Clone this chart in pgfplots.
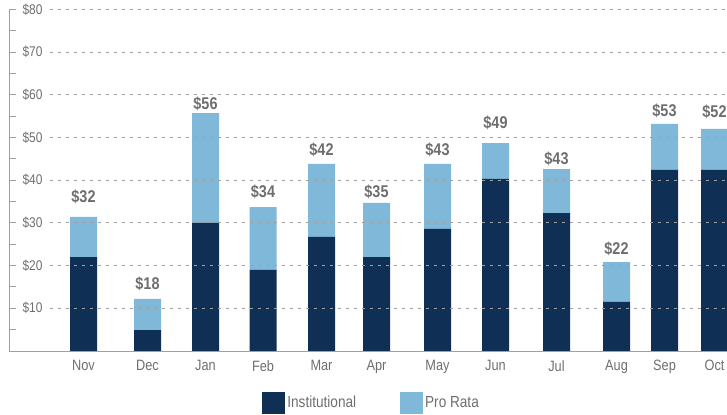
\documentclass[border=0pt]{standalone}
\usepackage{fontspec}
\setmainfont{Liberation Sans}[FakeStretch=0.85]
\usepackage{pgfplots}
\pgfplotsset{compat=1.18}
\definecolor{inst}{RGB}{16,47,84}
\definecolor{prorata}{RGB}{127,184,216}
\definecolor{txt}{RGB}{110,110,110}
\definecolor{axisgray}{RGB}{160,160,160}

\pgfplotstableread{
x      inst  pro   laby  lab
83.5   22.0  9.4   34.7  32
147.5  4.9   7.3   14.3  18
205.5  30.0  25.7  56.6  56
263.0  19.0  14.7  35.9  34
321.5  26.7  17.1  45.7  42
376.5  22.0  12.7  36.0  35
437.5  28.6  15.2  45.7  43
495.5  40.3  8.4   52.2  49
556.5  32.3  10.3  43.7  43
616.5  11.5  9.3   22.5  22
664.5  42.4  10.8  54.9  53
714.5  42.4  9.6   54.7  52
}\monthly

\begin{document}
\begin{tikzpicture}
\begin{axis}[
  at={(9bp,64bp)}, anchor=south west,
  scale only axis, width=718bp, height=341.6bp,
  xmin=9, xmax=727, ymin=0, ymax=80,
  ybar stacked, bar width=27bp,
  axis x line*=bottom, axis y line*=left,
  axis line style={draw=axisgray, line width=1bp, -},
  xtick=data,
  xticklabels={Nov,Dec,Jan,Feb,Mar,Apr,May,Jun,Jul,Aug,Sep,Oct},
  x tick style={draw=none},
  xticklabel style={font=\fontsize{15bp}{17bp}\selectfont, text=txt, yshift=-6bp},
  ytick={10,20,...,80},
  yticklabels={\$10,\$20,\$30,\$40,\$50,\$60,\$70,\$80},
  minor ytick={5,15,...,75},
  tick align=inside,
  major tick length=7bp, minor tick length=7bp,
  y tick style={draw=axisgray, line width=1bp},
  yticklabel style={anchor=west, xshift=10bp, font=\fontsize{14bp}{16bp}\selectfont, text=txt},
  legend image code/.code={\fill[#1] (0bp,-11bp) rectangle (23bp,11bp);},
  legend style={draw=none, fill=none, at={(0.505,-0.152)}, anchor=center,
    legend columns=2, font=\fontsize{16bp}{18bp}\selectfont, text=txt,
    /tikz/every even column/.append style={column sep=41bp},
    nodes={inner sep=2.5bp}},
]
\foreach \yy in {10,20,...,80} {
  \edef\tmp{\noexpand\draw[axisgray, line width=1bp, dash pattern=on 3bp off 5bp]
    (axis cs:50,\yy) -- (axis cs:727,\yy);}
  \tmp
}
\addplot[fill=inst, draw=none] table[x=x, y=inst] {\monthly};
\addplot[fill=prorata, draw=none] table[x=x, y=pro] {\monthly};
\legend{Institutional, Pro Rata}
\pgfplotstablegetrowsof{\monthly}
\pgfmathtruncatemacro{\nrows}{\pgfplotsretval-1}
\foreach \i in {0,...,\nrows} {
  \pgfplotstablegetelem{\i}{x}\of\monthly \let\xx\pgfplotsretval
  \pgfplotstablegetelem{\i}{laby}\of\monthly \let\ly\pgfplotsretval
  \pgfplotstablegetelem{\i}{lab}\of\monthly \let\lv\pgfplotsretval
  \edef\tmp{\noexpand\node[anchor=base, inner sep=0pt, text=txt,
    font=\noexpand\fontsize{17bp}{19bp}\noexpand\selectfont\noexpand\bfseries]
    at (axis cs:\xx,\ly) {\noexpand\$\lv};}
  \tmp
}
\end{axis}
\pgfresetboundingbox
\path[use as bounding box] (0,0) rectangle (727bp,415bp);
\end{tikzpicture}
\end{document}
